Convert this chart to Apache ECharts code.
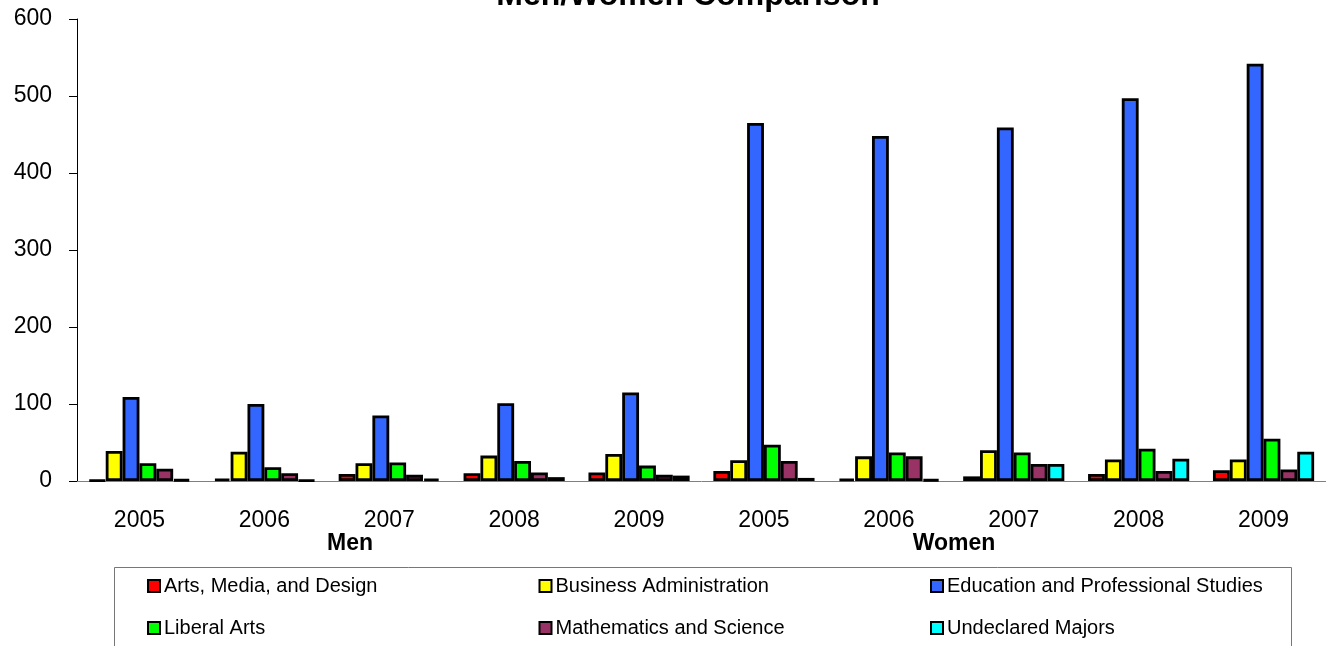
<!DOCTYPE html>
<html>
<head>
<meta charset="utf-8">
<script src="https://cdn.jsdelivr.net/npm/echarts@6.0.0/dist/echarts.min.js"></script>
<style>
html,body{margin:0;padding:0;background:#fff;}
#main{width:1326px;height:646px;}
</style>
</head>
<body>
<div id="main"></div>
<script>
/* data */
var years = ['2005', '2006', '2007', '2008', '2009', '2005', '2006', '2007', '2008', '2009'];
var groupNames = ['Men', 'Women'];
var seriesNames = ['Arts, Media, and Design', 'Business Administration', 'Education and Professional Studies',
    'Liberal Arts', 'Mathematics and Science', 'Undeclared Majors'];
var arts = [1, 3, 9, 10, 11, 13, 3, 6, 9, 14];
var business = [39, 38, 23, 33, 35, 27, 32, 40, 28, 28];
var education = [109, 100, 85, 101, 115, 465, 448, 459, 497, 542];
var liberal = [23, 18, 24, 26, 20, 47, 37, 37, 42, 55];
var mathSci = [16, 10, 8, 11, 8, 26, 32, 22, 13, 15];
var undeclared = [2, 1, 3, 5, 7, 4, 2, 22, 29, 38];
var yTicks = [0, 100, 200, 300, 400, 500, 600];

var colors = ['#ff0000', '#ffff00', '#3366ff', '#00ff00', '#993366', '#00ffff'];
var allData = [arts, business, education, liberal, mathSci, undeclared];
var FONT = '"Liberation Sans", Arial, sans-serif';

var chart = echarts.init(document.getElementById('main'));

var series = seriesNames.map(function (name, i) {
    return {
        name: name,
        type: 'bar',
        barGap: '0%',
        barCategoryGap: '19%',
        itemStyle: {
            color: colors[i],
            borderColor: '#000',
            borderWidth: 2.8
        },
        data: allData[i]
    };
});

var option = {
    animation: false,
    color: colors,
    grid: {
        left: 77,
        top: 19,
        width: 1250,
        height: 462
    },
    xAxis: {
        type: 'category',
        data: years,
        axisLine: { lineStyle: { color: '#808080', width: 1 } },
        axisTick: { length: 7, lineStyle: { color: '#404040' } },
        axisLabel: { color: '#000', fontSize: 23, fontFamily: FONT, margin: 28 }
    },
    yAxis: {
        type: 'value',
        min: yTicks[0],
        max: yTicks[yTicks.length - 1],
        interval: 100,
        axisLine: { show: true, lineStyle: { color: '#000', width: 1 } },
        axisTick: { show: true, length: 8, lineStyle: { color: '#000' } },
        splitLine: { show: false },
        axisLabel: { color: '#000', fontSize: 23, fontFamily: FONT, margin: 25 }
    },
    legend: {
        data: seriesNames,
        left: 147,
        top: 573,
        padding: 0,
        width: 1170,
        itemWidth: 12,
        itemHeight: 12,
        itemGap: 16,
        icon: 'rect',
        itemStyle: { borderColor: '#000', borderWidth: 2 },
        textStyle: { color: '#000', fontSize: 20, fontFamily: FONT, width: 358.5, lineHeight: 26, padding: [0, 0, 0, -1] }
    },
    graphic: [
        {
            type: 'text', x: 688, y: -4,
            style: { text: 'Men/Women Comparison', font: 'bold 32px ' + FONT, fill: '#000',
                textAlign: 'center', textVerticalAlign: 'middle' }
        },
        {
            type: 'text', x: 350, y: 544,
            style: { text: groupNames[0], font: 'bold 23px ' + FONT, fill: '#000',
                textAlign: 'center', textVerticalAlign: 'middle' }
        },
        {
            type: 'text', x: 954, y: 544,
            style: { text: groupNames[1], font: 'bold 23px ' + FONT, fill: '#000',
                textAlign: 'center', textVerticalAlign: 'middle' }
        },
        {
            type: 'rect',
            shape: { x: 114.5, y: 567.5, width: 1177, height: 100 },
            style: { fill: 'none', stroke: '#777', lineWidth: 1 }
        }
    ],
    series: series
};
chart.setOption(option);
</script>
</body>
</html>
